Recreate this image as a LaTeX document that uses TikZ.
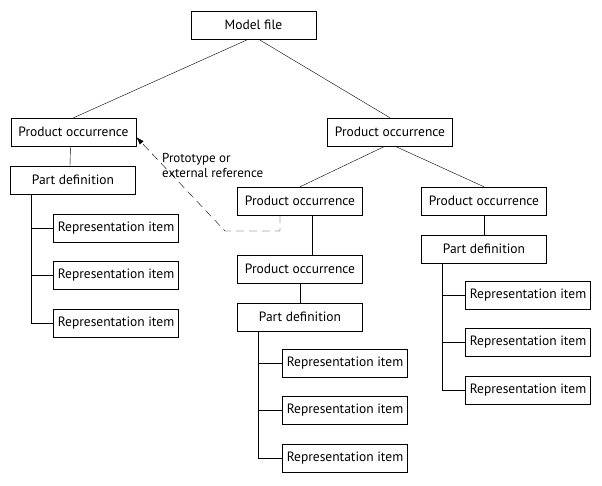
\documentclass[tikz,border=0pt]{standalone}
\usepackage{fontspec}
\setmainfont{PT Sans}
\usepackage{tikz}
\usetikzlibrary{arrows.meta}

\begin{document}
\begin{tikzpicture}[x=1pt, y=-1pt,
  box/.style = {draw, rectangle, minimum width=125pt, minimum height=28pt, inner sep=1pt, font=\fontsize{13.5}{15}\selectfont},
  ref/.style = {dash pattern=on 8pt off 5pt}]
	\useasboundingbox (0, 0) rectangle (602, 486);
	\node[box] (mf) at (253.5, 25){Model file};
	% left branch
	\node[box] (lpo) at (73.5, 132){Product occurrence};
	\node[box] (lpd) at (73, 180){Part definition};
	\node[box] (lri1) at (116, 228){Representation item};
	\node[box] (lri2) at (116, 275){Representation item};
	\node[box] (lri3) at (116, 323){Representation item};
	% right branch
	\node[box] (rpo) at (390, 132){Product occurrence};
	\node[box] (mpo) at (300, 201){Product occurrence};
	\node[box] (mpo2) at (300, 269){Product occurrence};
	\node[box] (mpd) at (300, 317){Part definition};
	\node[box] (mri1) at (345, 363){Representation item};
	\node[box] (mri2) at (345, 410){Representation item};
	\node[box] (mri3) at (345, 458){Representation item};
	\node[box] (rpo2) at (484, 201){Product occurrence};
	\node[box] (rpd) at (484, 249){Part definition};
	\node[box] (rri1) at (528, 295){Representation item};
	\node[box] (rri2) at (528, 342){Representation item};
	\node[box] (rri3) at (528, 390){Representation item};
	\draw[-] ([xshift=-5pt]mf.south) -- (lpo.north);
	\draw[-] ([xshift=5pt]mf.south) -- (rpo.north);
	\draw[-] ([xshift=-3pt]lpo.south) -- ([xshift=-3pt]lpd.north);
	\draw[-] ([xshift=-5pt]rpo.south) -- (mpo.north);
	\draw[-] ([xshift=5pt]rpo.south) -- (rpo2.north);
	\draw[-] ([xshift=12pt]mpo.south) -- ([xshift=12pt]mpo2.north);
	\draw[-] (mpo2) -- (mpd);
	\draw[-] (rpo2) -- (rpd);
	% item trees
	\foreach \pd/\ri in {lpd/lri, mpd/mri, rpd/rri}{
		\draw[-] ([xshift=21pt]\pd.south west) |- (\ri3.west);
		\draw[-] ([xshift=21pt]\pd.south west) |- (\ri1.west);
		\draw[-] ([xshift=21pt]\pd.south west) |- (\ri2.west);
	}
	% prototype link
	\coordinate (bend) at (225, 231);
	\draw[ref, -{Latex[length=8pt, width=5pt]}] ([xshift=-20pt]mpo.south) |- (bend) -- ([yshift=-5pt]lpo.east);
	\node[align=left, anchor=north west, font=\fontsize{13}{15}\selectfont, inner sep=0pt] (lbl) at (162, 153){Prototype or\\external reference};
\end{tikzpicture}
\end{document}
